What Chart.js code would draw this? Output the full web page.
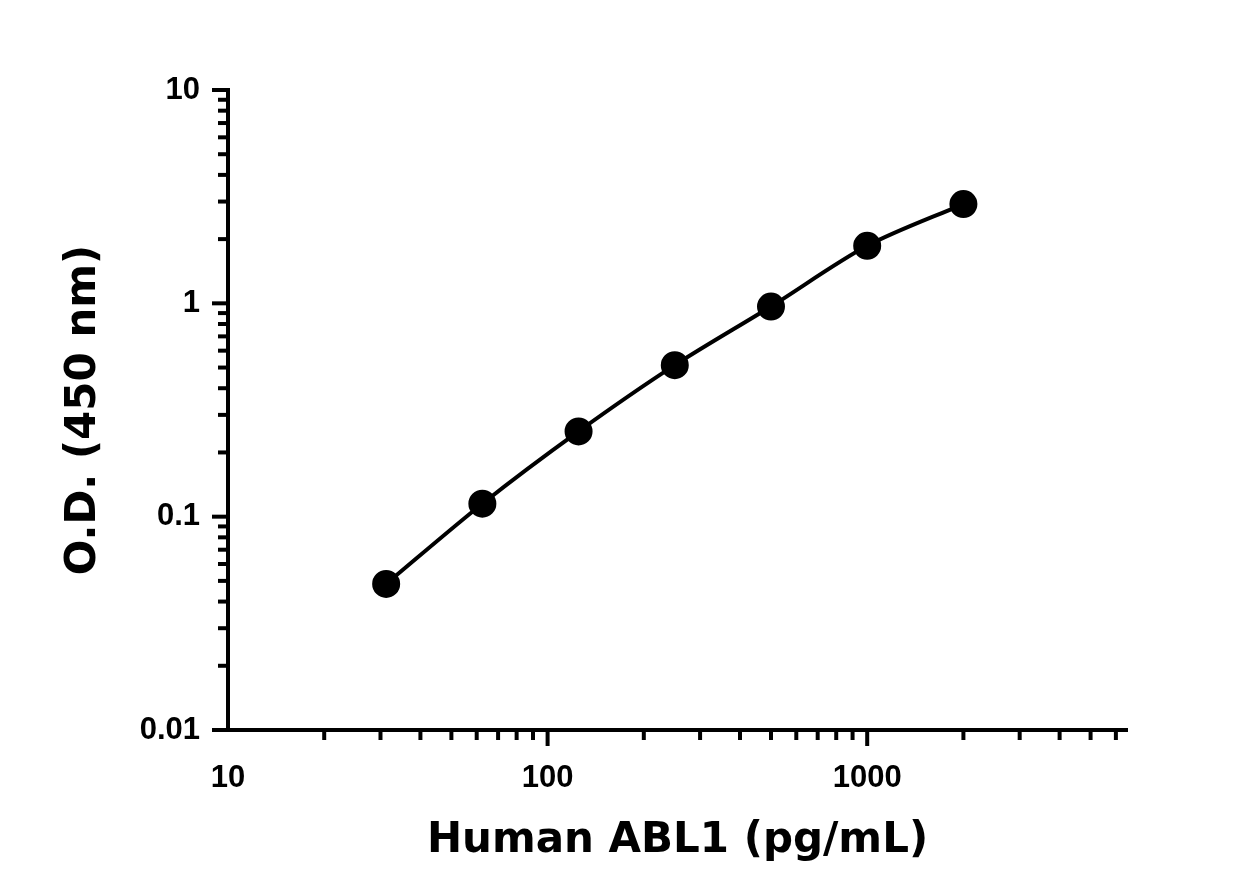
<!DOCTYPE html>
<html>
<head>
<meta charset="utf-8">
<script src="https://cdn.jsdelivr.net/npm/chart.js@4/dist/chart.umd.min.js"></script>
<style>
  body { margin: 0; background: #fff; }
  #wrap { width: 1251px; height: 870px; }
</style>
</head>
<body>
<div id="wrap"><canvas id="abl1-chart"></canvas></div>
<script>
const concentrations = [31.25, 62.5, 125, 250, 500, 1000, 2000]
const odValues = [0.0484, 0.115, 0.251, 0.513, 0.966, 1.86, 2.92]
const xTickValues = [10, 20, 30, 40, 50, 60, 70, 80, 90, 100, 200, 300, 400, 500, 600, 700, 800, 900, 1000, 2000, 3000, 4000, 5000, 6000]
const yTickValues = [0.01, 0.02, 0.03, 0.04, 0.05, 0.06, 0.07, 0.08, 0.09, 0.1, 0.2, 0.3, 0.4, 0.5, 0.6, 0.7, 0.8, 0.9, 1, 2, 3, 4, 5, 6, 7, 8, 9, 10]
const majorLabels = { 10: '10', 100: '100', 1000: '1000', 0.01: '0.01', 0.1: '0.1', 1: '1' }

function isMajor(v) {
    const l = Math.log10(v)
    return Math.abs(l - Math.round(l)) < 1e-9
}

const tickMarks = {
    id: 'tickMarks',
    afterDraw(chart) {
        const ctx = chart.ctx
        const xs = chart.scales.x
        const ys = chart.scales.y
        const area = chart.chartArea
        ctx.save()
        ctx.strokeStyle = '#000'
        ctx.lineWidth = 4
        xs.ticks.forEach(t => {
            if (t.value <= xs.min) return
            const px = xs.getPixelForValue(t.value)
            const len = isMajor(t.value) ? 16 : 10
            ctx.beginPath()
            ctx.moveTo(px, area.bottom)
            ctx.lineTo(px, area.bottom + len)
            ctx.stroke()
        })
        ys.ticks.forEach(t => {
            const py = ys.getPixelForValue(t.value)
            const len = isMajor(t.value) ? 16 : 10
            ctx.beginPath()
            ctx.moveTo(area.left, py)
            ctx.lineTo(area.left - len, py)
            ctx.stroke()
        })
        ctx.restore()
    }
}

const tickFont = { family: 'Liberation Sans', weight: 'bold', size: 31 }
const titleFont = { family: 'DejaVu Sans', weight: 'bold', size: 42 }

const ctx = document.getElementById('abl1-chart')
new Chart(ctx, {
    type: 'line',
    data: {
        datasets: [{
            data: concentrations.map((c, i) => ({ x: c, y: odValues[i] })),
            borderColor: '#000',
            backgroundColor: '#000',
            borderWidth: 4,
            pointRadius: 12,
            pointHoverRadius: 12,
            tension: 0.3
        }]
    },
    options: {
        responsive: true,
        maintainAspectRatio: false,
        animation: false,
        layout: { padding: { left: 55, right: 124, top: 90, bottom: 0 } },
        plugins: { legend: { display: false }, tooltip: { enabled: false } },
        scales: {
            x: {
                type: 'logarithmic',
                min: 10,
                max: 6500,
                afterBuildTicks: s => { s.ticks = xTickValues.map(v => ({ value: v })) },
                afterFit: s => { s.height = 140 },
                grid: { display: false },
                border: { color: '#000', width: 4 },
                ticks: {
                    color: '#000', font: tickFont, padding: 22, maxRotation: 0, autoSkip: false,
                    callback: v => majorLabels[v] || ''
                },
                title: { display: true, text: 'Human ABL1 (pg/mL)', color: '#000', font: titleFont, padding: { top: 8 } }
            },
            y: {
                type: 'logarithmic',
                min: 0.01,
                max: 10,
                afterBuildTicks: s => { s.ticks = yTickValues.map(v => ({ value: v })) },
                afterFit: s => { s.width = 173 },
                grid: { display: false },
                border: { color: '#000', width: 4 },
                ticks: {
                    color: '#000', font: tickFont, padding: 20, autoSkip: false,
                    callback: v => majorLabels[v] || ''
                },
                title: { display: true, text: 'O.D. (450 nm)', color: '#000', font: titleFont, padding: { bottom: 6 } }
            }
        }
    },
    plugins: [tickMarks]
})
</script>
</body>
</html>
